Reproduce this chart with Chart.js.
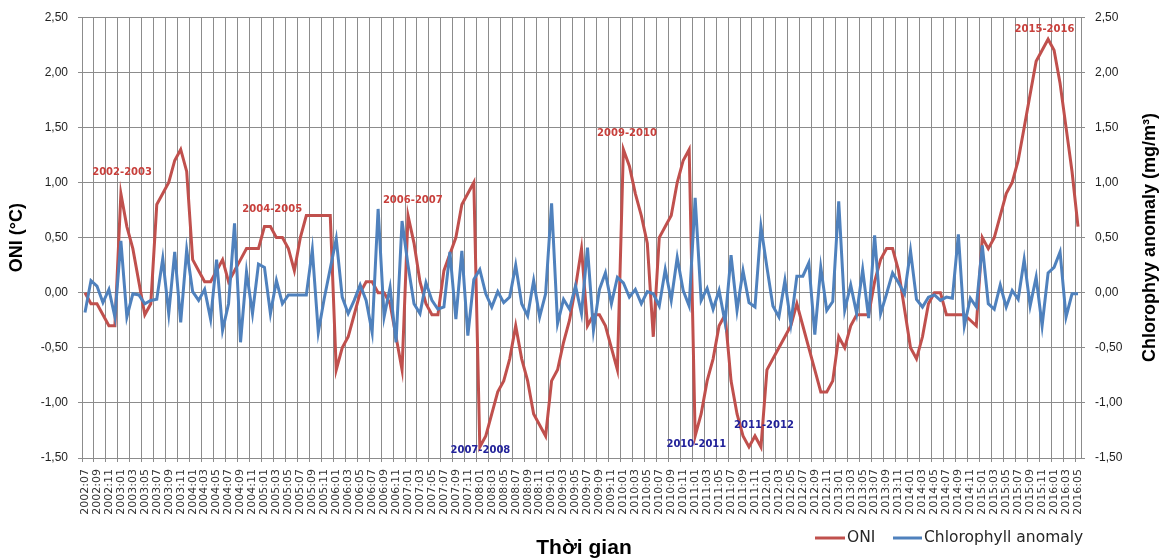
<!DOCTYPE html>
<html>
<head>
<meta charset="utf-8">
<script src="https://cdn.jsdelivr.net/npm/chart.js@4.4.0/dist/chart.umd.min.js"></script>
<style>
html,body{margin:0;padding:0;background:#ffffff;}
#wrap{width:1169px;height:560px;position:relative;}
</style>
</head>
<body>
<div id="wrap"><canvas id="c" width="1169" height="560"></canvas></div>
<script>
// ---- categories (monthly) ----
const months = [
"2002:07","2002:08","2002:09","2002:10","2002:11","2002:12",
"2003:01","2003:02","2003:03","2003:04","2003:05","2003:06","2003:07","2003:08","2003:09","2003:10","2003:11","2003:12",
"2004:01","2004:02","2004:03","2004:04","2004:05","2004:06","2004:07","2004:08","2004:09","2004:10","2004:11","2004:12",
"2005:01","2005:02","2005:03","2005:04","2005:05","2005:06","2005:07","2005:08","2005:09","2005:10","2005:11","2005:12",
"2006:01","2006:02","2006:03","2006:04","2006:05","2006:06","2006:07","2006:08","2006:09","2006:10","2006:11","2006:12",
"2007:01","2007:02","2007:03","2007:04","2007:05","2007:06","2007:07","2007:08","2007:09","2007:10","2007:11","2007:12",
"2008:01","2008:02","2008:03","2008:04","2008:05","2008:06","2008:07","2008:08","2008:09","2008:10","2008:11","2008:12",
"2009:01","2009:02","2009:03","2009:04","2009:05","2009:06","2009:07","2009:08","2009:09","2009:10","2009:11","2009:12",
"2010:01","2010:02","2010:03","2010:04","2010:05","2010:06","2010:07","2010:08","2010:09","2010:10","2010:11","2010:12",
"2011:01","2011:02","2011:03","2011:04","2011:05","2011:06","2011:07","2011:08","2011:09","2011:10","2011:11","2011:12",
"2012:01","2012:02","2012:03","2012:04","2012:05","2012:06","2012:07","2012:08","2012:09","2012:10","2012:11","2012:12",
"2013:01","2013:02","2013:03","2013:04","2013:05","2013:06","2013:07","2013:08","2013:09","2013:10","2013:11","2013:12",
"2014:01","2014:02","2014:03","2014:04","2014:05","2014:06","2014:07","2014:08","2014:09","2014:10","2014:11","2014:12",
"2015:01","2015:02","2015:03","2015:04","2015:05","2015:06","2015:07","2015:08","2015:09","2015:10","2015:11","2015:12",
"2016:01","2016:02","2016:03","2016:04","2016:05"
];

// ---- ONI series (°C) ----
const oni = [
 0.0,-0.1,-0.1,-0.2,-0.3,-0.3,
 0.9, 0.6, 0.4, 0.1,-0.2,-0.1, 0.8, 0.9, 1.0, 1.2, 1.3, 1.1,
 0.3, 0.2, 0.1, 0.1, 0.2, 0.3, 0.1, 0.2, 0.3, 0.4, 0.4, 0.4,
 0.6, 0.6, 0.5, 0.5, 0.4, 0.2, 0.5, 0.7, 0.7, 0.7, 0.7, 0.7,
-0.7,-0.5,-0.4,-0.2, 0.0, 0.1, 0.1, 0.0, 0.0,-0.1,-0.4,-0.7,
 0.7, 0.45,0.1,-0.1,-0.2,-0.2, 0.2, 0.35,0.5, 0.8, 0.9, 1.0,
-1.4,-1.3,-1.1,-0.9,-0.8,-0.6,-0.3,-0.6,-0.8,-1.1,-1.2,-1.3,
-0.8,-0.7,-0.45,-0.25,0.05,0.4,-0.3,-0.2,-0.2,-0.3,-0.5,-0.7,
 1.3, 1.15,0.9, 0.7, 0.45,-0.4,0.5, 0.6, 0.7, 1.0, 1.2, 1.3,
-1.3,-1.1,-0.8,-0.6,-0.3,-0.2,-0.8,-1.1,-1.3,-1.4,-1.3,-1.4,
-0.7,-0.6,-0.5,-0.4,-0.3,-0.1,-0.3,-0.5,-0.7,-0.9,-0.9,-0.8,
-0.4,-0.5,-0.3,-0.2,-0.2,-0.2, 0.1, 0.3, 0.4, 0.4, 0.2,-0.15,
-0.5,-0.6,-0.4,-0.1, 0.0, 0.0,-0.2,-0.2,-0.2,-0.2,-0.25,-0.3,
 0.5, 0.4, 0.5, 0.7, 0.9, 1.0, 1.2, 1.5, 1.8, 2.1, 2.2, 2.3,
 2.2, 1.9, 1.5, 1.1, 0.6
];

// ---- Chlorophyll anomaly series (mg/m3) ----
const chl = [
-0.18, 0.11, 0.06,-0.09, 0.03,-0.22,
 0.47,-0.22,-0.01,-0.02,-0.10,-0.07,-0.06, 0.31,-0.19, 0.37,-0.27, 0.39,
 0.01,-0.07, 0.03,-0.24, 0.30,-0.34,-0.10, 0.63,-0.45, 0.19,-0.19, 0.26,
 0.23,-0.19, 0.11,-0.10,-0.02,-0.02,-0.02,-0.02, 0.39,-0.36,-0.05, 0.22,
 0.49,-0.04,-0.19,-0.07, 0.07,-0.07,-0.36, 0.76,-0.22, 0.05,-0.45, 0.65,
 0.25,-0.10,-0.19, 0.09,-0.07,-0.15,-0.13, 0.37,-0.24, 0.38,-0.39, 0.12,
 0.21,-0.01,-0.13, 0.01,-0.09,-0.04, 0.25,-0.10,-0.21, 0.11,-0.22,-0.01,
 0.81,-0.28,-0.06,-0.15, 0.06,-0.19, 0.41,-0.34, 0.03, 0.18,-0.10, 0.14,
 0.09,-0.04, 0.03,-0.10, 0.01,-0.01,-0.12, 0.21,-0.07, 0.32, 0.02,-0.12,
 0.86,-0.07, 0.04,-0.15, 0.02,-0.27, 0.34,-0.16, 0.20,-0.09,-0.13, 0.60,
 0.23,-0.12,-0.22, 0.11,-0.28, 0.15, 0.15, 0.27,-0.38, 0.23,-0.16,-0.08,
 0.83,-0.16, 0.07,-0.19, 0.21,-0.23, 0.52,-0.19,-0.01, 0.18, 0.09,-0.01,
 0.38,-0.06,-0.13,-0.04,-0.02,-0.07,-0.04,-0.05, 0.53,-0.30,-0.05,-0.13,
 0.43,-0.10,-0.15, 0.07,-0.13, 0.02,-0.06, 0.30,-0.12, 0.14,-0.30, 0.18,
 0.23, 0.37,-0.22,-0.01,-0.01
];

// ---- axis tick values ----
const yTicks = [-1.5,-1.0,-0.5,0.0,0.5,1.0,1.5,2.0,2.5];

// ---- event labels (text, anchored in data coordinates) ----
const eventText  = ["2002-2003","2004-2005","2006-2007","2009-2010","2015-2016","2007-2008","2010-2011","2011-2012"];
const eventAtIdx = [6.2, 31.3, 54.8, 90.6, 160.4, 66.1, 102.2, 113.5];
const eventAtVal = [1.09, 0.76, 0.84, 1.45, 2.385, -1.43, -1.375, -1.2];
const eventKind  = ["nino","nino","nino","nino","nino","nina","nina","nina"];

const RED = '#C0504D', BLUE = '#4F81BD', GRID = '#8c8c8c';
const fmt = v => v.toFixed(2).replace('.', ',');

const overlay = {
  id: 'overlay',
  afterDraw(chart) {
    const {ctx, chartArea, scales} = chart;
    const midY = (chartArea.top + chartArea.bottom) / 2;
    ctx.save();
    // event labels
    ctx.textAlign = 'center';
    ctx.textBaseline = 'middle';
    ctx.font = 'bold 10px "DejaVu Sans"';
    eventText.forEach((t, k) => {
      ctx.fillStyle = eventKind[k] === 'nino' ? '#C8403C' : '#22229A';
      ctx.fillText(t, scales.x.getPixelForValue(eventAtIdx[k]), scales.y.getPixelForValue(eventAtVal[k]));
    });
    // left axis title
    ctx.fillStyle = '#000';
    ctx.font = 'bold 18px "Liberation Sans"';
    ctx.save(); ctx.translate(17, midY); ctx.rotate(-Math.PI/2); ctx.fillText('ONI (°C)', 0, 0); ctx.restore();
    // right axis title
    ctx.save(); ctx.translate(1150, midY); ctx.rotate(-Math.PI/2); ctx.fillText('Chlorophyy anomaly (mg/m³)', 0, 0); ctx.restore();
    // x axis title
    ctx.font = 'bold 21px "Liberation Sans"';
    ctx.fillText('Thời gian', 584, 548);
    // legend
    ctx.lineWidth = 3;
    ctx.strokeStyle = RED; ctx.beginPath(); ctx.moveTo(815, 538); ctx.lineTo(845, 538); ctx.stroke();
    ctx.strokeStyle = BLUE; ctx.beginPath(); ctx.moveTo(893, 538); ctx.lineTo(922, 538); ctx.stroke();
    ctx.fillStyle = '#262626';
    ctx.textAlign = 'left';
    ctx.font = '15.5px "DejaVu Sans"';
    ctx.fillText('ONI', 847, 538);
    ctx.fillText('Chlorophyll anomaly', 924, 538);
    ctx.restore();
  }
};

new Chart(document.getElementById('c'), {
  type: 'line',
  data: {
    labels: months,
    datasets: [
      { label: 'ONI', data: oni, borderColor: RED, backgroundColor: RED, borderWidth: 3,
        pointRadius: 0, tension: 0, yAxisID: 'y', order: 1 },
      { label: 'Chlorophyll anomaly', data: chl, borderColor: BLUE, backgroundColor: BLUE, borderWidth: 3,
        pointRadius: 0, tension: 0, yAxisID: 'y1', order: 0 }
    ]
  },
  options: {
    responsive: false,
    devicePixelRatio: 1,
    animation: false,
    layout: { padding: { top: 16, left: 0, right: 0, bottom: 0 } },
    plugins: { legend: { display: false }, tooltip: { enabled: false } },
    scales: {
      x: {
        type: 'category',
        offset: true,
        grid: {
          offset: true,
          color: c => (c.index % 2 === 0 ? GRID : 'rgba(0,0,0,0)'),
          lineWidth: 1,
          tickLength: 4
        },
        border: { display: false },
        ticks: {
          autoSkip: false, minRotation: 90, maxRotation: 90, padding: 7,
          color: '#333', font: { family: 'DejaVu Sans', size: 11 },
          callback: (v, i) => (i % 2 === 0 ? months[i] : '')
        },
        afterFit: s => { s.height = 102; }
      },
      y: {
        position: 'left', min: -1.5, max: 2.5,
        afterBuildTicks: s => { s.ticks = yTicks.map(v => ({ value: v })); },
        ticks: { callback: v => fmt(v), padding: 10, color: '#222', font: { family: 'Liberation Sans', size: 12 } },
        grid: { color: GRID, lineWidth: 1, tickLength: 4 },
        border: { color: GRID, width: 1 },
        afterFit: s => { s.width = 82; }
      },
      y1: {
        position: 'right', min: -1.5, max: 2.5,
        afterBuildTicks: s => { s.ticks = yTicks.map(v => ({ value: v })); },
        ticks: { callback: v => fmt(v), padding: 10, color: '#222', font: { family: 'Liberation Sans', size: 12 } },
        grid: { drawOnChartArea: false, color: GRID, lineWidth: 1, tickLength: 4 },
        border: { color: GRID, width: 1 },
        afterFit: s => { s.width = 88; }
      }
    }
  },
  plugins: [overlay]
});
</script>
</body>
</html>
